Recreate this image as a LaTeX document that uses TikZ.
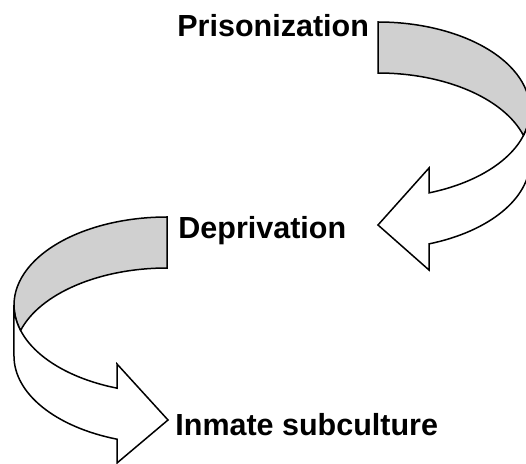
\documentclass[tikz,border=0pt]{standalone}
\usepackage{fontspec}
\setmainfont{Liberation Sans}
\definecolor{bandgrey}{RGB}{208,208,208}
\begin{document}
\begin{tikzpicture}[x=0.5pt,y=0.5pt,yscale=-1,xscale=1,
  band/.style={draw=black, line width=0.75, line join=miter, fill=bandgrey},
  front/.style={draw=black, line width=0.75, line join=miter, fill=white},
  lbl/.style={anchor=base west, inner sep=0pt, font=\fontsize{15.25}{18}\selectfont\bfseries}]
\useasboundingbox (0,0) rectangle (526,464);

%Shape: Curved Left Arrow (back band)
\draw [band] (378,22) arc [start angle=-90, end angle=16.85, x radius=76pt, y radius=44pt]
  arc [start angle=-16.85, end angle=-90, x radius=76pt, y radius=44pt] -- cycle ;
%Shape: Curved Left Arrow (front with head)
\draw [front] (523.5,135.5) arc [start angle=16.85, end angle=70.4, x radius=76pt, y radius=44pt]
  -- (429,168) -- (378,225) -- (429,270) -- (429,243.9)
  arc [start angle=70.4, end angle=0, x radius=76pt, y radius=44pt]
  -- (530,110) arc [start angle=0, end angle=16.85, x radius=76pt, y radius=44pt] -- cycle ;

%Shape: Curved Right Arrow (back band)
\draw [band] (167,217) arc [start angle=270, end angle=163.15, x radius=76.5pt, y radius=44pt]
  arc [start angle=196.85, end angle=270, x radius=76.5pt, y radius=44pt] -- cycle ;
%Shape: Curved Right Arrow (front with head)
\draw [front] (20.6,330.5) arc [start angle=163.15, end angle=109.07, x radius=76.5pt, y radius=44pt]
  -- (117,364) -- (168,420) -- (117,463) -- (117,439.2)
  arc [start angle=109.07, end angle=180, x radius=76.5pt, y radius=44pt]
  -- (14,305) arc [start angle=180, end angle=163.15, x radius=76.5pt, y radius=44pt] -- cycle ;

% Text Node
\node [lbl] (prison) at (177,37) {Prisonization};
% Text Node
\node [lbl] (depriv) at (178,239) {Deprivation};
% Text Node
\node [lbl] (inmate) at (175,436) {Inmate subculture};
\end{tikzpicture}
\end{document}
